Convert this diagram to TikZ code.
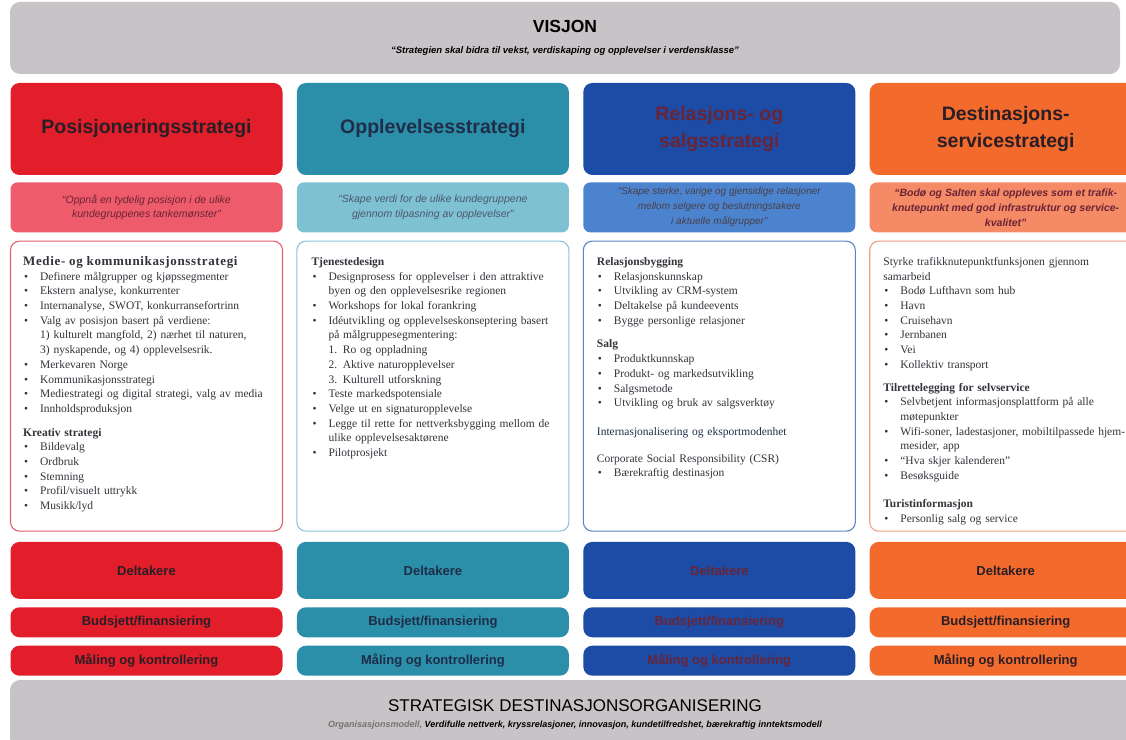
\documentclass[tikz,border=0pt]{standalone}
\usepackage{fontspec}
\setmainfont{Liberation Serif}
\setsansfont{Liberation Sans}
\usetikzlibrary{positioning}

\definecolor{visgrey}{HTML}{C8C3C6}
\definecolor{posred}{HTML}{E11E2A}
\definecolor{posquote}{HTML}{EE5B6B}
\definecolor{posline}{HTML}{E0606E}
\definecolor{oppteal}{HTML}{2B8FA9}
\definecolor{oppquote}{HTML}{7DC1D2}
\definecolor{oppline}{HTML}{8CC5D6}
\definecolor{relblue}{HTML}{1C4CA5}
\definecolor{relquote}{HTML}{4B83CF}
\definecolor{relline}{HTML}{5A86C8}
\definecolor{desorange}{HTML}{F26A2C}
\definecolor{desquote}{HTML}{F58A66}
\definecolor{desline}{HTML}{F0A080}
\definecolor{darktxt}{HTML}{2A1E26}
\definecolor{navytxt}{HTML}{1F2D48}
\definecolor{redtxt}{HTML}{6A2436}
\definecolor{bodytxt}{HTML}{33333B}

% bullet line with hanging indent
\newcommand{\bul}{\par\noindent\hangindent=17pt\hangafter=1\makebox[17pt][l]{\hspace{1pt}\textbullet}}
\newcommand{\hd}[1]{\par\noindent\textbf{#1}}
\newcommand{\gap}[1][9pt]{\par\vspace{#1}}

\begin{document}
\begin{tikzpicture}[x=1pt, y=1pt,
    strat/.style={rounded corners=9pt, minimum width=272pt, minimum height=92pt, inner sep=2pt,
        align=center, font=\sffamily\bfseries\fontsize{19.5}{27}\selectfont},
    quotebox/.style={rounded corners=7pt, minimum width=272pt, minimum height=50pt, inner sep=1pt,
        align=center, font=\sffamily\itshape\fontsize{10.5}{14.5}\selectfont},
    panel/.style={draw, line width=1.1pt, fill=white, rounded corners=9pt,
        minimum width=272pt, minimum height=290pt},
    paneltext/.style={anchor=north west, text width=258pt, inner sep=0pt, align=left,
        text=bodytxt, font=\fontsize{11.5}{14.7}\selectfont},
    rowbox/.style={rounded corners=9pt, minimum width=272pt, inner sep=1pt,
        align=center, font=\sffamily\bfseries\fontsize{13}{15}\selectfont},
    banner/.style={fill=visgrey, rounded corners=10pt, align=center, text=black}
]
\useasboundingbox (0,0) rectangle (1126,739);
\clip (0,0) rectangle (1126,739);

% vision
\node[banner, minimum width=1110pt, minimum height=72pt,
    font=\sffamily\bfseries\fontsize{17.5}{21}\selectfont] (vis) at (565,701)
    {VISJON\\{\itshape\fontsize{9.5}{11}\selectfont “Strategien skal bidra til vekst, verdiskaping og opplevelser i verdensklasse”}};

% strategies
\node[strat, fill=posred, text=darktxt] (h1) at (146.5,610) {Posisjoneringsstrategi};
\node[strat, fill=oppteal, text=navytxt, right=14pt of h1] (h2) {Opplevelsesstrategi};
\node[strat, fill=relblue, text=redtxt, right=14pt of h2] (h3) {Relasjons- og\\salgsstrategi};
\node[strat, fill=desorange, text=darktxt, right=14pt of h3] (h4) {Destinasjons-\\servicestrategi};

\node[quotebox, fill=posquote, text=redtxt, below=7pt of h1] (q1)
    {“Oppnå en tydelig posisjon i de ulike\\kundegruppenes tankemønster”};
\node[quotebox, fill=oppquote, text=navytxt!80, below=7pt of h2] (q2)
    {“Skape verdi for de ulike kundegruppene\\gjennom tilpasning av opplevelser”};
\node[quotebox, fill=relquote, text=darktxt!85, below=7pt of h3,
    font=\sffamily\itshape\fontsize{10}{15}\selectfont] (q3)
    {“Skape sterke, varige og gjensidige relasjoner\\mellom selgere og beslutningstakere\\i aktuelle målgrupper”};
\node[quotebox, fill=desquote, text=redtxt, below=7pt of h4,
    font=\sffamily\bfseries\itshape\fontsize{10.5}{15}\selectfont] (q4)
    {“Bodø og Salten skal oppleves som et trafik-\\knutepunkt med god infrastruktur og service-\\kvalitet”};

% panels
\node[panel, draw=posline, below=8pt of q1] (t1) {};
\node[panel, draw=oppline, below=8pt of q2] (t2) {};
\node[panel, draw=relline, below=8pt of q3] (t3) {};
\node[panel, draw=desline, below=8pt of q4] (t4) {};

\node[paneltext, below right=10pt and 13pt of t1.north west] (x1) {%
\hd{\fontsize{13}{14.7}\selectfont\addfontfeature{LetterSpace=5}Medie- og kommunikasjonsstrategi}
\bul Definere målgrupper og kjøpssegmenter
\bul Ekstern analyse, konkurrenter
\bul Internanalyse, SWOT, konkurransefortrinn
\bul Valg av posisjon basert på verdiene:\newline 1) kulturelt mangfold, 2) nærhet til naturen,\newline 3) nyskapende, og 4) opplevelsesrik.
\bul Merkevaren Norge
\bul Kommunikasjonsstrategi
\bul Mediestrategi og digital strategi, valg av media
\bul Innholdsproduksjon
\gap
\hd{Kreativ strategi}
\bul Bildevalg
\bul Ordbruk
\bul Stemning
\bul Profil/visuelt uttrykk
\bul Musikk/lyd\par};

\node[paneltext, below right=10pt and 15pt of t2.north west] (x2) {%
\hd{Tjenestedesign}
\bul Designprosess for opplevelser i den attraktive\newline byen og den opplevelsesrike regionen
\bul Workshops for lokal forankring
\bul Idéutvikling og opplevelseskonseptering basert\newline på målgruppesegmentering:\newline 1. Ro og oppladning\newline 2. Aktive naturopplevelser\newline 3. Kulturell utforskning
\bul Teste markedspotensiale
\bul Velge ut en signaturopplevelse
\bul Legge til rette for nettverksbygging mellom de\newline ulike opplevelsesaktørene
\bul Pilotprosjekt\par};

\node[paneltext, below right=10pt and 14pt of t3.north west] (x3) {%
\hd{Relasjonsbygging}
\bul Relasjonskunnskap
\bul Utvikling av CRM-system
\bul Deltakelse på kundeevents
\bul Bygge personlige relasjoner
\gap
\hd{Salg}
\bul Produktkunnskap
\bul Produkt- og markedsutvikling
\bul Salgsmetode
\bul Utvikling og bruk av salgsverktøy
\gap[14pt]
\par\noindent{\color{navytxt}Internasjonalisering og eksportmodenhet}
\gap[12pt]
\par\noindent Corporate Social Responsibility (CSR)
\bul Bærekraftig destinasjon\par};

\node[paneltext, below right=10pt and 14pt of t4.north west] (x4) {%
\par\noindent Styrke trafikknutepunktfunksjonen gjennom\newline samarbeid
\bul Bodø Lufthavn som hub
\bul Havn
\bul Cruisehavn
\bul Jernbanen
\bul Vei
\bul Kollektiv transport
\gap[8pt]
\hd{Tilrettelegging for selvservice}
\bul Selvbetjent informasjonsplattform på alle\newline møtepunkter
\bul Wifi-soner, ladestasjoner, mobiltilpassede hjem-\newline mesider, app
\bul “Hva skjer kalenderen”
\bul Besøksguide
\gap[14pt]
\hd{Turistinformasjon}
\bul Personlig salg og service\par};

% participants, budget, measuring
\node[rowbox, fill=posred, text=darktxt, minimum height=57pt, below=10pt of t1] (d1) {Deltakere};
\node[rowbox, fill=oppteal, text=navytxt, minimum height=57pt, below=10pt of t2] (d2) {Deltakere};
\node[rowbox, fill=relblue, text=redtxt, minimum height=57pt, below=10pt of t3] (d3) {Deltakere};
\node[rowbox, fill=desorange, text=darktxt, minimum height=57pt, below=10pt of t4] (d4) {Deltakere};

\node[rowbox, fill=posred, text=darktxt, minimum height=30pt, below=8pt of d1] (b1) {Budsjett/finansiering};
\node[rowbox, fill=oppteal, text=navytxt, minimum height=30pt, below=8pt of d2] (b2) {Budsjett/finansiering};
\node[rowbox, fill=relblue, text=redtxt, minimum height=30pt, below=8pt of d3] (b3) {Budsjett/finansiering};
\node[rowbox, fill=desorange, text=darktxt, minimum height=30pt, below=8pt of d4] (b4) {Budsjett/finansiering};

\node[rowbox, fill=posred, text=darktxt, minimum height=30pt, below=8pt of b1] (m1) {Måling og kontrollering};
\node[rowbox, fill=oppteal, text=navytxt, minimum height=30pt, below=8pt of b2] (m2) {Måling og kontrollering};
\node[rowbox, fill=relblue, text=redtxt, minimum height=30pt, below=8pt of b3] (m3) {Måling og kontrollering};
\node[rowbox, fill=desorange, text=darktxt, minimum height=30pt, below=8pt of b4] (m4) {Måling og kontrollering};

% organisation
\node[banner, minimum width=1130pt, minimum height=68pt,
    font=\sffamily\fontsize{17}{16}\selectfont] (org) at (575,25)
    {STRATEGISK DESTINASJONSORGANISERING\\{\bfseries\itshape\fontsize{9}{10}\selectfont{\color{black!55}Organisasjonsmodell,} Verdifulle nettverk, kryssrelasjoner, innovasjon, kundetilfredshet, bærekraftig inntektsmodell}};
\end{tikzpicture}
\end{document}
